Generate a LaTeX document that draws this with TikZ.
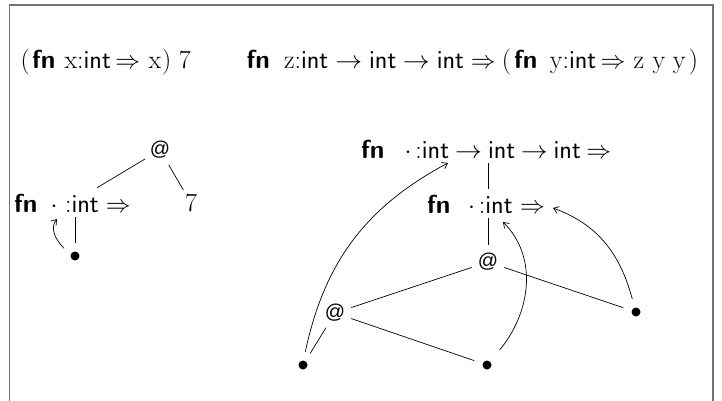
\documentclass[tikz,border=0pt]{standalone}
\usepackage{graphicx}
\usepackage{fontspec}
\newfontfamily\atfont{Liberation Sans}
\usetikzlibrary{arrows.meta}
\newcommand\kw{\textsf{\bfseries fn}}
\newcommand\ty{\textsf{int}}
\newcommand\hs[1]{\hspace{#1pt}}
\newcommand\ra{\scalebox{1.08}[1]{$\rightarrow$}}
\newcommand\Ra{$\Rightarrow$}
\begin{document}
\begin{tikzpicture}[x=1pt,y=-1pt,font=\fontsize{26}{31}\selectfont]
\tikzset{
 frame/.style={draw=black!55, line width=1.2pt},
 edge/.style={line width=0.7pt},
 arr/.style={line width=0.7pt, -{Straight Barb[length=5pt,width=7pt]}},
 lam/.style={inner xsep=0pt, inner ysep=5pt, text height=19pt, text depth=0pt, anchor=base west},
 app/.style={circle, inner sep=0pt, minimum size=34pt, font=\fontsize{20}{24}\selectfont\atfont},
 num/.style={circle, inner sep=0pt, minimum size=30pt},
 leaf/.style={circle, fill=black, inner sep=0pt, minimum size=9pt, outer sep=9pt},
 txt/.style={inner sep=0pt, anchor=base west},
}
\useasboundingbox (0,0) rectangle (722,401);
\draw[frame] (9.5,401) -- (9.5,5) -- (713,5) -- (713,401);

% top expressions
\node[txt] (e1) at (20.5,69) {(\hs{2.3}\kw\hs{9}x:\ty\hs{4.5}\Ra\hs{8.5}x\hs{0.8})\hs{7.5}7};
\node[txt] (e2) at (246.5,69) {\kw\hs{14}z:\ty\hs{7}\ra\hs{7}\ty\hs{6.5}\ra\hs{7}\ty\hs{7}\Ra\hs{6}(\hs{3}\kw\hs{12.5}y:\ty\hs{4.5}\Ra\hs{8}z\hs{8.5}y\hs{7.5}y\hs{3.5})};

% left tree
\node[app] (a0) at (160,150) {@};
\node[lam] (l0) at (14,212) {\kw\hs{13}$\cdot$\hs{7.6}:\ty\hs{7}\Ra};
\node[num] (n7) at (191,203) {7};
\node[leaf] (b0) at (75,256) {};
\coordinate (d0) at (57,219);
\draw[edge] (a0) -- (l0);
\draw[edge] (a0) -- (n7);
\draw[edge] (l0.south -| b0) -- (b0);
\draw[arr] (b0.145) to[out=135,in=-130] (d0);

% right tree
\node[lam] (l1) at (361,158) {\kw\hs{20}$\cdot$\hs{4}:\ty\hs{6}\ra\hs{6}\ty\hs{5.5}\ra\hs{6}\ty\hs{5.5}\Ra};
\node[lam] (l2) at (427,213) {\kw\hs{17.5}$\cdot$\hs{4}:\ty\hs{7.5}\Ra};
\node[app] (a1) at (488,262) {@};
\node[app] (a2) at (335,313) {@};
\node[leaf] (b1) at (303,365) {};
\node[leaf] (b2) at (487,365) {};
\node[leaf] (b3) at (636,312) {};
\coordinate (t1) at (448,163);
\coordinate (t2) at (503,222);
\coordinate (t3) at (553,208);
\draw[edge] (l1.south -| a1) -- (l2.north -| a1);
\draw[edge] (l2.south -| a1) -- (a1);
\draw[edge] (a1) -- (a2);
\draw[edge] (a1) -- (b3);
\draw[edge] (a2) -- (b2);
\draw[edge] (a2) -- (b1);
\draw[arr] (b1.80) to[out=78,in=208] (t1);
\draw[arr,shorten <=6pt] (b2.50) to[out=50,in=-45] (t2);
\draw[arr] (b3.106) to[out=105,in=-20] (t3);
\end{tikzpicture}
\end{document}
